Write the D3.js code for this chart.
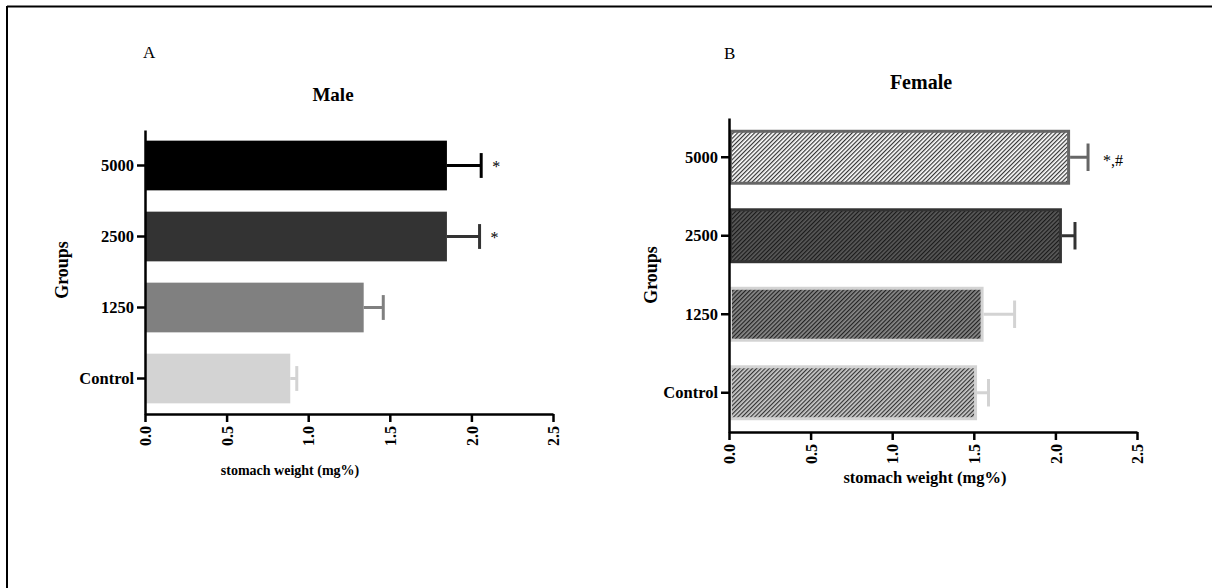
<!DOCTYPE html>
<html>
<head>
<meta charset="utf-8">
<script src="https://cdnjs.cloudflare.com/ajax/libs/d3/7.8.5/d3.min.js"></script>
<style>
body { margin: 0; background: #fff; }
text { font-family: "Liberation Serif", "Times New Roman", serif; }
</style>
</head>
<body>
<div id="chart"></div>
<script>
// data
var groups = ["Control", "1250", "2500", "5000"];
var xTicks = [0, 0.5, 1.0, 1.5, 2.0, 2.5];

var maleMean = [0.89, 1.34, 1.85, 1.85];
var maleSem = [0.04, 0.12, 0.20, 0.21];
var maleSig = ["", "", "*", "*"];

var femaleMean = [1.52, 1.56, 2.04, 2.09];
var femaleSem = [0.07, 0.19, 0.08, 0.11];
var femaleSig = ["", "", "", "*,#"];

var svgWidth = 1212;
var svgHeight = 588;

var svg = d3.select("#chart")
.append("svg")
.attr("width", svgWidth)
.attr("height", svgHeight);

// frame lines (top + left)
svg.append("line").attr("x1", 7).attr("x2", svgWidth).attr("y1", 6.5).attr("y2", 6.5)
.attr("stroke", "#000").attr("stroke-width", 2);
svg.append("line").attr("x1", 7).attr("x2", 7).attr("y1", 6).attr("y2", svgHeight)
.attr("stroke", "#000").attr("stroke-width", 2);

var defs = svg.append("defs");
function hatch(id, bg, fg) {
    var p = defs.append("pattern")
    .attr("id", id)
    .attr("patternUnits", "userSpaceOnUse")
    .attr("width", 3).attr("height", 3)
    .attr("patternTransform", "rotate(45)");
    p.append("rect").attr("width", 3).attr("height", 3).attr("fill", bg);
    p.append("line").attr("x1", 0.6).attr("x2", 0.6).attr("y1", 0).attr("y2", 3)
    .attr("stroke", fg).attr("stroke-width", 1.2);
}
hatch("h5000", "#ffffff", "#333333");
hatch("h2500", "#5a5a5a", "#1a1a1a");
hatch("h1250", "#8a8a8a", "#222222");
hatch("hCtrl", "#cccccc", "#333333");

function drawPanel(cfg) {
    var x = d3.scaleLinear().domain([0, 2.5]).range([cfg.left, cfg.right]);
    var y = d3.scaleBand().domain(groups.slice().reverse())
    .range([cfg.top, cfg.bottom])
    .paddingInner(0.3).paddingOuter(0.15);
    var bw = y.bandwidth();

    var rows = groups.map(function(g, i) {
        return { g: g, m: cfg.mean[i], s: cfg.sem[i], sig: cfg.sig[i], i: i };
    });

    var g = svg.append("g");

    // bars
    g.selectAll("rect.bar").data(rows).enter().append("rect")
    .attr("class", "bar")
    .attr("x", x(0) + cfg.inset)
    .attr("y", d => y(d.g) + cfg.inset)
    .attr("width", d => x(d.m) - x(0) - 2 * cfg.inset)
    .attr("height", bw - 2 * cfg.inset)
    .attr("fill", d => cfg.fill[d.i])
    .attr("stroke", d => cfg.stroke ? cfg.stroke[d.i] : "none")
    .attr("stroke-width", cfg.stroke ? 3 : 0);

    // error bars
    g.selectAll("line.err").data(rows).enter().append("line")
    .attr("x1", d => x(d.m)).attr("x2", d => x(d.m + d.s))
    .attr("y1", d => y(d.g) + bw / 2).attr("y2", d => y(d.g) + bw / 2)
    .attr("stroke", d => cfg.errColor[d.i]).attr("stroke-width", 3);
    g.selectAll("line.cap").data(rows).enter().append("line")
    .attr("x1", d => x(d.m + d.s)).attr("x2", d => x(d.m + d.s))
    .attr("y1", d => y(d.g) + bw / 2 - bw * 0.25).attr("y2", d => y(d.g) + bw / 2 + bw * 0.25)
    .attr("stroke", d => cfg.errColor[d.i]).attr("stroke-width", 3);

    // significance marks
    g.selectAll("text.sig").data(rows.filter(d => d.sig)).enter().append("text")
    .attr("x", d => x(d.m + d.s) + cfg.sigDx)
    .attr("y", d => y(d.g) + bw / 2 + cfg.sigDy)
    .attr("fill", "#000")
    .style("font-size", "16px")
    .text(d => d.sig);

    // axes
    var bottomAxis = d3.axisBottom(x).tickValues(xTicks).tickFormat(d3.format(".1f"))
    .tickSize(8).tickSizeOuter(0);
    var leftAxis = d3.axisLeft(y).tickSize(8).tickSizeOuter(0);

    var xa = g.append("g").attr("transform", `translate(0, ${cfg.bottom})`).call(bottomAxis);
    xa.selectAll("text")
    .attr("transform", "rotate(-90)")
    .attr("text-anchor", "end")
    .attr("x", -12).attr("y", 0).attr("dy", "0.35em")
    .style("font-size", "16px").style("font-weight", "bold").attr("fill", "#000");

    var ya = g.append("g").attr("transform", `translate(${cfg.left}, 0)`).call(leftAxis);
    ya.selectAll("text").attr("x", -11)
    .style("font-size", "16.5px").style("font-weight", "bold").attr("fill", "#000");

    g.selectAll(".domain").attr("stroke", "#000").attr("stroke-width", 2.5);
    g.selectAll(".tick line").attr("stroke", "#000").attr("stroke-width", 2.5);
    g.selectAll(".tick text").style("font-family", "'Liberation Serif', serif");

    // labels
    g.append("text").attr("x", cfg.letterX).attr("y", cfg.letterY)
    .style("font-size", "17px").text(cfg.letter);

    g.append("text").attr("x", cfg.titleX).attr("y", cfg.titleY)
    .attr("text-anchor", "middle")
    .style("font-size", cfg.titleSize).style("font-weight", "bold").text(cfg.title);

    g.append("text")
    .attr("transform", `translate(${cfg.groupsX}, ${cfg.groupsY}) rotate(-90)`)
    .attr("text-anchor", "middle")
    .style("font-size", "18px").style("font-weight", "bold").text("Groups");

    g.append("text").attr("x", cfg.xLabelX).attr("y", cfg.xLabelY)
    .attr("text-anchor", "middle")
    .style("font-size", cfg.xLabelSize).style("font-weight", "bold").text("stomach weight (mg%)");
}

// order of colours follows groups: Control, 1250, 2500, 5000
drawPanel({
    left: 145, right: 553, top: 130, bottom: 414,
    mean: maleMean, sem: maleSem, sig: maleSig,
    fill: ["#d3d3d3", "#808080", "#333333", "#000000"],
    errColor: ["#d3d3d3", "#808080", "#333333", "#000000"],
    stroke: null, inset: 0, sigDx: 11, sigDy: 6,
    letter: "A", letterX: 143, letterY: 58,
    title: "Male", titleX: 333, titleY: 101, titleSize: "19px",
    groupsX: 68, groupsY: 270,
    xLabelX: 290, xLabelY: 475, xLabelSize: "14px"
});

drawPanel({
    left: 729, right: 1137, top: 118, bottom: 432,
    mean: femaleMean, sem: femaleSem, sig: femaleSig,
    fill: ["url(#hCtrl)", "url(#h1250)", "url(#h2500)", "url(#h5000)"],
    stroke: ["#d3d3d3", "#d3d3d3", "#333333", "#666666"],
    errColor: ["#d3d3d3", "#d3d3d3", "#333333", "#666666"],
    inset: 1.5, sigDx: 15, sigDy: 9,
    letter: "B", letterX: 724, letterY: 59,
    title: "Female", titleX: 921, titleY: 89, titleSize: "20px",
    groupsX: 657, groupsY: 275,
    xLabelX: 925, xLabelY: 483, xLabelSize: "16.5px"
});
</script>
</body>
</html>
